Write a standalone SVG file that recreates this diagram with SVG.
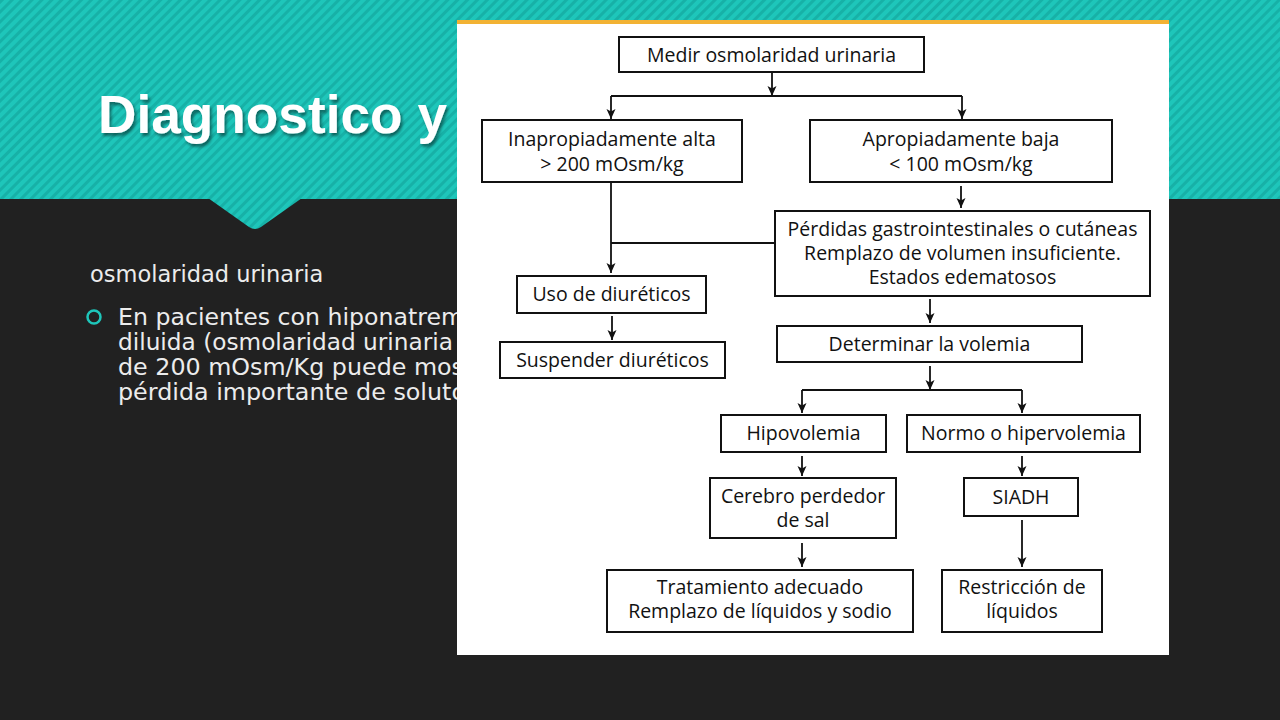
<svg xmlns="http://www.w3.org/2000/svg" width="1280" height="720" viewBox="0 0 1280 720">
<defs>
<pattern id="stripes" width="7" height="7" patternUnits="userSpaceOnUse" patternTransform="rotate(45)">
<rect width="7" height="7" fill="#1ec6ba"/>
<rect width="3" height="7" fill="#17b1a7"/>
</pattern>
<filter id="shadow" x="-10%" y="-30%" width="120%" height="160%">
<feDropShadow dx="2" dy="3" stdDeviation="1.5" flood-color="#000" flood-opacity="0.45"/>
</filter>
<marker id="ah" markerWidth="10" markerHeight="10" refX="10" refY="5" orient="auto" markerUnits="userSpaceOnUse">
<path d="M0,0.5 L10,5 L0,9.5 L2.5,5 Z" fill="#111"/>
</marker>
<style>
.box{fill:#fff;stroke:#111;stroke-width:2}
.ft{font-family:"Open Sans","Noto Sans",sans-serif;font-size:19.5px;fill:#111;text-anchor:middle}
.con{stroke:#111;stroke-width:1.8;fill:none}
.arr{stroke:#111;stroke-width:1.8;fill:none;marker-end:url(#ah)}
.body{font-family:"DejaVu Sans",sans-serif;font-size:22.5px;fill:#ececec}
</style>
</defs>
<rect width="1280" height="720" fill="#212121"/>
<rect width="1280" height="199" fill="url(#stripes)"/>
<path d="M208,198 L302,198 L261,227 Q255,231 249,227 Z" fill="url(#stripes)"/>
<g id="title">
<text x="98" y="133" font-family="Liberation Sans,Arial,sans-serif" font-weight="bold" font-size="53" fill="#ffffff" textLength="349" lengthAdjust="spacingAndGlyphs" filter="url(#shadow)">Diagnostico y</text>
</g>
<g id="body-text">
<text class="body" x="90" y="282" font-size="22">osmolaridad urinaria</text>
<circle cx="94" cy="317" r="6.5" fill="none" stroke="#1ec6ba" stroke-width="2.5"/>
<text class="body" x="118" y="325" textLength="346" lengthAdjust="spacingAndGlyphs">En pacientes con hiponatrem</text>
<text class="body" x="118" y="350" textLength="335" lengthAdjust="spacingAndGlyphs">diluida (osmolaridad urinaria</text>
<text class="body" x="118" y="375" textLength="346" lengthAdjust="spacingAndGlyphs">de 200 mOsm/Kg puede mos</text>
<text class="body" x="118" y="400" textLength="348" lengthAdjust="spacingAndGlyphs">pérdida importante de soluto</text>
</g>
<rect x="457" y="20" width="712" height="4" fill="#f2b233"/>
<rect x="457" y="24" width="712" height="631" fill="#ffffff"/>
<g id="connectors">
<line class="arr" x1="772" y1="73" x2="772" y2="96"/>
<line class="con" x1="611" y1="96" x2="962" y2="96"/>
<line class="arr" x1="611" y1="96" x2="611" y2="119"/>
<line class="arr" x1="962" y1="96" x2="962" y2="119"/>
<line class="arr" x1="611" y1="182" x2="611" y2="273"/>
<line class="arr" x1="961" y1="186" x2="961" y2="208"/>
<line class="con" x1="611" y1="243" x2="775" y2="243"/>
<line class="arr" x1="612" y1="316" x2="612" y2="340"/>
<line class="arr" x1="930" y1="299" x2="930" y2="323"/>
<line class="arr" x1="930" y1="366" x2="930" y2="390"/>
<line class="con" x1="802" y1="390" x2="1022" y2="390"/>
<line class="arr" x1="802" y1="390" x2="802" y2="413"/>
<line class="arr" x1="1022" y1="390" x2="1022" y2="413"/>
<line class="arr" x1="802" y1="456" x2="802" y2="476"/>
<line class="arr" x1="1022" y1="456" x2="1022" y2="476"/>
<line class="arr" x1="802" y1="543" x2="802" y2="567"/>
<line class="arr" x1="1022" y1="520" x2="1022" y2="567"/>
</g>
<g id="n1"><rect class="box" x="619" y="37" width="305" height="35"/><text class="ft" x="771.5" y="61.5">Medir osmolaridad urinaria</text></g>
<g id="n2"><rect class="box" x="482" y="120" width="260" height="62"/><text class="ft" x="612" y="146">Inapropiadamente alta</text><text class="ft" x="612" y="171">&gt; 200 mOsm/kg</text></g>
<g id="n3"><rect class="box" x="810" y="120" width="302" height="62"/><text class="ft" x="961" y="146">Apropiadamente baja</text><text class="ft" x="961" y="171">&lt; 100 mOsm/kg</text></g>
<g id="n4"><rect class="box" x="775" y="211" width="375" height="85"/><text class="ft" x="962.5" y="236">Pérdidas gastrointestinales o cutáneas</text><text class="ft" x="962.5" y="260">Remplazo de volumen insuficiente.</text><text class="ft" x="962.5" y="284">Estados edematosos</text></g>
<g id="n5"><rect class="box" x="517" y="276" width="189" height="37"/><text class="ft" x="611.5" y="301">Uso de diuréticos</text></g>
<g id="n6"><rect class="box" x="500" y="342" width="225" height="36"/><text class="ft" x="612.5" y="367">Suspender diuréticos</text></g>
<g id="n7"><rect class="box" x="777" y="326" width="305" height="36"/><text class="ft" x="929.5" y="351">Determinar la volemia</text></g>
<g id="n8"><rect class="box" x="721" y="415" width="165" height="37"/><text class="ft" x="803.5" y="440">Hipovolemia</text></g>
<g id="n9"><rect class="box" x="907" y="415" width="233" height="37"/><text class="ft" x="1023.5" y="440">Normo o hipervolemia</text></g>
<g id="n10"><rect class="box" x="710" y="478" width="186" height="60"/><text class="ft" x="803" y="503">Cerebro perdedor</text><text class="ft" x="803" y="527">de sal</text></g>
<g id="n11"><rect class="box" x="964" y="478" width="114" height="38"/><text class="ft" x="1021" y="504">SIADH</text></g>
<g id="n12"><rect class="box" x="607" y="570" width="306" height="62"/><text class="ft" x="760" y="594">Tratamiento adecuado</text><text class="ft" x="760" y="618">Remplazo de líquidos y sodio</text></g>
<g id="n13"><rect class="box" x="942" y="570" width="160" height="62"/><text class="ft" x="1022" y="594">Restricción de</text><text class="ft" x="1022" y="618">líquidos</text></g>
</svg>
